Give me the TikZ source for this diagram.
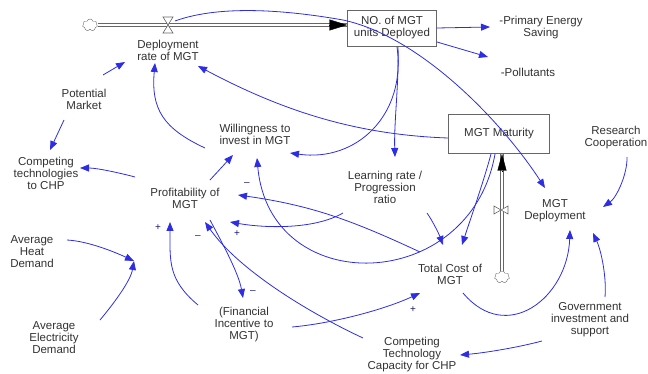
\documentclass[tikz,border=0pt]{standalone}
\usepackage{fontspec}
\setmainfont{Liberation Sans}
\usepackage{tikz}
\usetikzlibrary{arrows.meta,shapes.symbols}

\definecolor{linkblue}{RGB}{45,45,230}
\definecolor{txtgray}{RGB}{50,50,50}

\begin{document}
\begin{tikzpicture}[x=1pt,y=1pt,
    every node/.style={font=\fontsize{11.5}{12}\selectfont,text=txtgray,align=center,inner sep=2pt},
    stock/.style={draw=gray!80!black,fill=white,minimum width=89pt,minimum height=36pt},
    cloudy/.style={cloud,cloud puffs=7,draw=gray!80!black,fill=white,minimum width=15pt,minimum height=12pt,inner sep=0pt},
    link/.style={linkblue,line width=0.8pt,-{Triangle[length=9pt,width=7pt]}},
    bow/.style={link,looseness=0.77},
    pipe/.style={draw=gray!80!black,double=white,double distance=2.4pt,line width=0.6pt},
    valve/.style={draw=gray!80!black,fill=white,line width=0.6pt},
    sign/.style={font=\fontsize{10}{10}\selectfont,text=linkblue!50!black,inner sep=0pt}
  ]
    \useasboundingbox (0,0) rectangle (648,-374);
    %
    % stocks and clouds
    \node[stock] (noMGT) at (392,-28) {NO. of MGT\\units Deployed};
    \node[stock,minimum width=101pt,minimum height=39pt] (mat) at (499,-134) {MGT Maturity};
    \node[cloudy] (cloudA) at (90,-25) {};
    \node[cloudy] (cloudB) at (502,-277) {};
    %
    % flows
    \coordinate (pipeEnd) at (cloudA.east -| noMGT.west);
    \coordinate (pipeTop) at (cloudB.north |- mat.south);
    \draw[pipe] (cloudA.east) -- (pipeEnd);
    \draw[-{Triangle[length=18pt,width=11pt]},black] ([xshift=-18pt]pipeEnd) -- (pipeEnd);
    \draw[pipe] (cloudB.north) -- (pipeTop);
    \draw[-{Triangle[length=17pt,width=9pt]},black] ([yshift=-17pt]pipeTop) -- (pipeTop);
    \coordinate (valveA) at (168,-25);
    \begin{scope}[shift={(valveA)}]
        \draw[valve] (-5,8) -- (5,8) -- (-5,-8) -- (5,-8) -- cycle;
    \end{scope}
    \begin{scope}[shift={(501,-210)}]
        \draw[valve] (-7,4) -- (-7,-4) -- (7,4) -- (7,-4) -- cycle;
    \end{scope}
    %
    % variables
    \node (dep) at (168,-50) {Deployment\\rate of MGT};
    \node (pes) at (541,-28) {-Primary Energy\\Saving};
    \node (pol) at (528,-72) {-Pollutants};
    \node (pm) at (84,-99) {Potential\\Market};
    \node (will) at (255,-134) {Willingness to\\invest in MGT};
    \node (rc) at (616,-138) {Research\\Cooperation};
    \node (ct) at (46,-173) {Competing\\technologies\\to CHP};
    \node (prof) at (185,-198) {Profitability of\\MGT};
    \node (lr) at (385,-187) {Learning rate /\\Progression\\ratio};
    \node (md) at (555,-211) {MGT\\Deployment};
    \node (ahd) at (32,-252) {Average\\Heat\\Demand};
    \node (tc) at (450,-274) {Total Cost of\\MGT};
    \node (aed) at (54,-338) {Average\\Electricity\\Demand};
    \node (fi) at (244,-325) {(Financial\\Incentive to\\MGT)};
    \node (gis) at (590,-320) {Government\\investment and\\support};
    \node (ctc) at (412,-355) {Competing\\Technology\\Capacity for CHP};
    \coordinate (dem) at (134,-261);
    %
    % links
    \draw[bow] ([shift={(7,4)}]valveA) to[out=20,in=170] ([shift={(-49,8)}]noMGT.center)
        to[out=-12,in=123] ([shift={(-10,23)}]md.center);
    \draw
    (noMGT.east) edge[link] ([shift={(-51,1)}]pes.center)
    ([shift={(45,-14)}]noMGT.center) edge[link] ([shift={(-40,15)}]pol.center)
    ([shift={(6,-19)}]noMGT.center) edge[bow,out=-88,in=92] ([shift={(10,30)}]lr.center)
    ([shift={(5,-19)}]noMGT.center) edge[bow,out=-82,in=-8,looseness=1.15] ([shift={(35,-19)}]will.center);
    \draw
    ([shift={(-51,-4)}]mat.center) edge[bow,out=178,in=-28,looseness=0.92] ([shift={(30,-16)}]dep.center)
    ([shift={(-4,-20)}]mat.center) edge[bow,out=-100,in=-85,looseness=1.53] ([shift={(2,-24)}]will.center)
    ([shift={(-8,-20)}]mat.center) edge[bow,out=-105,in=72] ([shift={(12,29)}]tc.center);
    \draw
    ([shift={(-50,-14)}]will.center) edge[bow,out=155,in=-95,looseness=1.2] ([shift={(-13,-13)}]dep.center)
    ([shift={(19,24)}]pm.center) edge[link] ([shift={(-43,-12)}]dep.center)
    ([shift={(-20,-21)}]pm.center) edge[link] ([shift={(4,23)}]ct.center);
    \draw
    ([shift={(-50,21)}]prof.center) edge[bow,out=165,in=0] ([shift={(34,5)}]ct.center)
    ([shift={(25,18)}]prof.center) edge[link] ([shift={(-22,-21)}]will.center)
    ([shift={(25,-22)}]prof.center) edge[bow,out=-62,in=100] ([shift={(-1,27)}]fi.center)
    ([shift={(-46,20)}]fi.center) edge[bow,out=140,in=-90,looseness=1.15] ([shift={(-15,-24)}]prof.center)
    ([shift={(-30,22)}]tc.center) edge[bow,out=155,in=-8,looseness=1] ([shift={(53,3)}]prof.center)
    ([shift={(-42,-26)}]lr.center) edge[bow,out=-150,in=-10] ([shift={(45,-24)}]prof.center)
    ([shift={(-49,17)}]ctc.center) edge[bow,out=155,in=-55] ([shift={(20,-24)}]prof.center);
    \draw
    ([shift={(42,-26)}]lr.center) edge[bow,out=-55,in=110] ([shift={(-7,29)}]tc.center)
    ([shift={(48,-2)}]fi.center) edge[bow,out=5,in=-155] ([shift={(-30,-19)}]tc.center)
    ([shift={(13,-19)}]tc.center) edge[bow,out=-50,in=-92,looseness=1.4] ([shift={(15,-19)}]md.center);
    \draw
    ([shift={(11,-19)}]rc.center) edge[bow,out=-88,in=35] ([shift={(48,4)}]md.center)
    ([shift={(15,23)}]gis.center) edge[bow,out=85,in=-65] ([shift={(38,-22)}]md.center)
    ([shift={(-48,-21)}]gis.center) edge[bow,out=-165,in=5] ([shift={(48,0)}]ctc.center);
    \draw
    ([shift={(35,12)}]ahd.center) edge[bow,out=-3,in=155] (dem)
    ([shift={(46,18)}]aed.center) edge[bow,out=50,in=-100] (dem);
    %
    % polarities
    \node[sign] (sgnA) at (247,-184) {--};
    \node[sign] (sgnB) at (158,-228) {+};
    \node[sign] (sgnC) at (198,-237) {--};
    \node[sign] (sgnD) at (237,-234) {+};
    \node[sign] (sgnE) at (253,-292) {--};
    \node[sign] (sgnF) at (413,-310) {+};
    %
\end{tikzpicture}
\end{document}
